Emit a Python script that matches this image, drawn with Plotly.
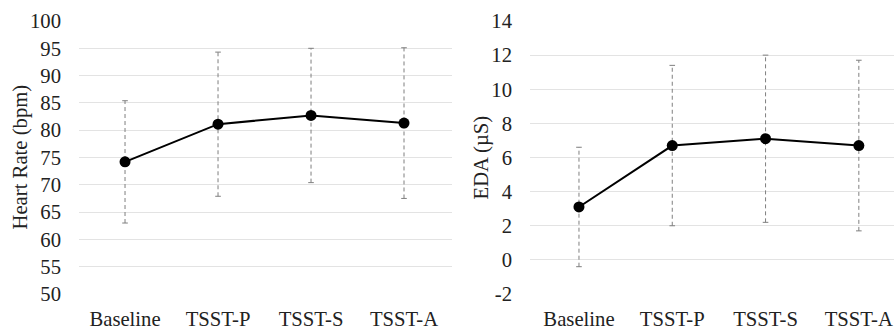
import plotly.graph_objects as go

categories = ["Baseline", "TSST-P", "TSST-S", "TSST-A"]
hr_mean = [74.2, 81.1, 82.7, 81.3]
hr_err = [11.2, 13.2, 12.3, 13.8]
eda_mean = [3.1, 6.7, 7.1, 6.7]
eda_err = [3.5, 4.7, 4.9, 5.0]

hr_ticks = [50, 55, 60, 65, 70, 75, 80, 85, 90, 95, 100]
hr_ticktext = ["50", "55", "60", "65", "70", "75", "80", "85", "90", "95", "100"]
eda_ticks = [-2, 0, 2, 4, 6, 8, 10, 12, 14]
eda_ticktext = ["-2", "0", "2", "4", "6", "8", "10", "12", "14"]

FONT = "Liberation Serif, Times New Roman, serif"
TXT = "#222222"
GRID = "#e3e3e3"
ERR = "#7f7f7f"
FS = 20.7

fig = go.Figure()


def add_panel(means, errs, xa, ya):
    xs, ys, cx, cy = [], [], [], []
    for c, m, e in zip(categories, means, errs):
        xs += [c, c, None]
        ys += [m - e, m + e, None]
        cx += [c, c]
        cy += [m - e, m + e]
    fig.add_trace(go.Scatter(x=xs, y=ys, mode="lines", xaxis=xa, yaxis=ya,
                             line=dict(color=ERR, width=1, dash="4px,3px"),
                             showlegend=False, hoverinfo="skip"))
    fig.add_trace(go.Scatter(x=cx, y=cy, mode="markers", xaxis=xa, yaxis=ya,
                             marker=dict(symbol="line-ew", size=4,
                                         line=dict(color=ERR, width=1)),
                             showlegend=False, hoverinfo="skip"))
    fig.add_trace(go.Scatter(x=categories, y=means, mode="lines+markers",
                             xaxis=xa, yaxis=ya,
                             line=dict(color="black", width=2),
                             marker=dict(color="black", size=11),
                             showlegend=False))


add_panel(hr_mean, hr_err, "x", "y")
add_panel(eda_mean, eda_err, "x2", "y2")

W, H = 894, 329
xcommon = dict(type="category", showgrid=False, zeroline=False, showline=False,
               ticks="", tickfont=dict(family=FONT, size=FS, color=TXT),
               ticklabelstandoff=10)
ycommon = dict(showgrid=True, gridcolor=GRID, gridwidth=1, zeroline=False,
               showline=False, ticks="",
               tickfont=dict(family=FONT, size=FS, color=TXT))

fig.update_layout(
    width=W, height=H,
    margin=dict(l=0, r=0, t=21, b=35),
    paper_bgcolor="white", plot_bgcolor="white",
    xaxis=dict(domain=[79 / W, 452 / W], range=[-0.495, 3.516],
               categoryorder="array", categoryarray=categories, **xcommon),
    xaxis2=dict(domain=[530 / W, 1.0], range=[-0.525, 3.377], anchor="y2",
                categoryorder="array", categoryarray=categories, **xcommon),
    yaxis=dict(range=[50, 100], tickvals=hr_ticks, ticktext=hr_ticktext,
               anchor="x", ticklabelstandoff=17, **ycommon),
    yaxis2=dict(range=[-2, 14], tickvals=eda_ticks, ticktext=eda_ticktext,
                anchor="x2", ticklabelstandoff=17, **ycommon),
    annotations=[
        dict(text="Heart Rate (bpm)", textangle=-90, xref="paper", yref="paper",
             x=20 / W, y=0.5, xanchor="center", yanchor="middle",
             showarrow=False, font=dict(family=FONT, size=FS, color=TXT)),
        dict(text="EDA (µS)", textangle=-90, xref="paper", yref="paper",
             x=481 / W, y=0.5, xanchor="center", yanchor="middle",
             showarrow=False, font=dict(family=FONT, size=FS, color=TXT)),
    ],
)

# remove the default page margin so the 894x329 figure fills the window exactly
fig.write_html(
    "out.html",
    config={"displayModeBar": False},
    post_script="document.body.style.margin='0';document.body.style.overflow='hidden';",
)
